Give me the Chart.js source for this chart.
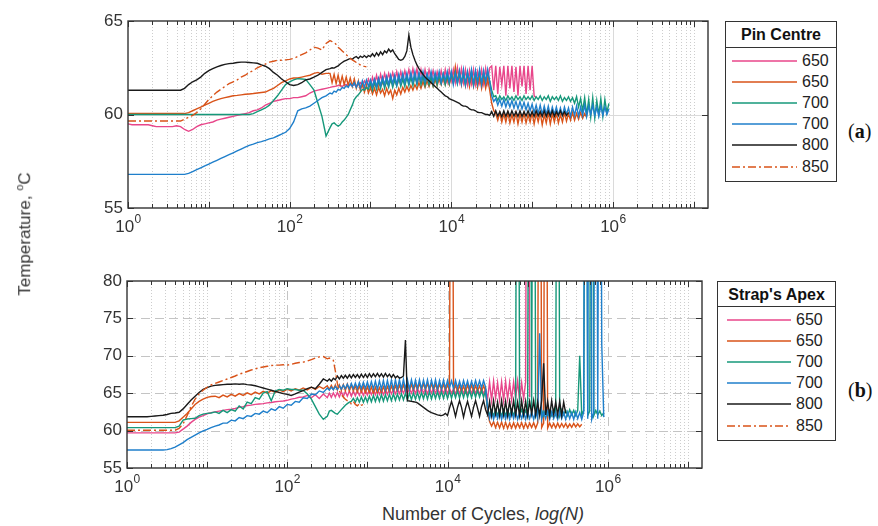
<!DOCTYPE html>
<html>
<head>
<meta charset="utf-8">
<script src="https://cdn.jsdelivr.net/npm/chart.js@4.4.1/dist/chart.umd.min.js"></script>
<style>
  body { margin: 0; background: #fff; font-family: 'Liberation Sans', Arial, Helvetica, sans-serif; color: #333; }
  #page { position: relative; width: 878px; height: 526px; overflow: hidden; }
  canvas { position: absolute; left: 0; }
  .legend { position: absolute; box-sizing: border-box; border: 1.5px solid #333; background: #fff; font-size: 16px; }
  .lg-title { font-weight: bold; color: #111; text-align: center; border-bottom: 1.5px solid #333; box-sizing: border-box; }
  .lg-row { height: 21.2px; display: flex; align-items: center; }
  .lg-row span { margin-left: 5px; color: #222; }
  .panel { position: absolute; font-family: 'Liberation Serif', 'Times New Roman', serif; font-size: 20px; color: #111; }
  #ylabel { position: absolute; left: 24px; top: 234px; transform: translate(-50%, -50%) rotate(-90deg); white-space: nowrap; font-size: 17px; }
  #ylabel sup { font-size: 11px; }
  #xlabel { position: absolute; left: 382px; top: 504px; white-space: nowrap; font-size: 18px; }
</style>
</head>
<body>
<div id="page">
  <canvas id="pinChart" width="720" height="240" style="top:0"></canvas>
  <canvas id="strapChart" width="720" height="250" style="top:250px"></canvas>
  <div id="pinLegend" class="legend" style="left:725px; top:21px; width:112px; height:161px;"></div>
  <div id="strapLegend" class="legend" style="left:717px; top:281px; width:119px; height:160px;"></div>
  <div class="panel" style="left:848px; top:120px;">(<b>a</b>)</div>
  <div class="panel" style="left:848px; top:379px;">(<b>b</b>)</div>
  <div id="ylabel">Temperature, <sup>o</sup>C</div>
  <div id="xlabel">Number of Cycles, <i>log(N)</i></div>
</div>
<script>
// Number of cycles shared by every trace: 20 points per decade up to ~316, then 40 per decade
var cycles = [
  1, 1.12, 1.26, 1.41, 1.58, 1.78, 2, 2.24, 2.51, 2.82, 3.16, 3.55, 3.98, 4.47, 5.01, 5.62, 6.31, 7.08, 7.94, 8.91,
  10, 11.2, 12.6, 14.1, 15.8, 17.8, 20, 22.4, 25.1, 28.2, 31.6, 35.5, 39.8, 44.7, 50.1, 56.2, 63.1, 70.8, 79.4, 89.1,
  100, 112, 126, 141, 158, 178, 200, 224, 251, 282, 316,
  335, 355, 376, 398, 422, 447, 473, 501, 531, 562, 596, 631, 668, 708, 750, 794, 841, 891, 944,
  1000, 1059, 1122, 1189, 1259, 1334, 1413, 1496, 1585, 1679, 1778, 1884, 1995, 2113, 2239, 2371, 2512, 2661, 2818, 2985,
  3162, 3350, 3548, 3758, 3981, 4217, 4467, 4732, 5012, 5309, 5623, 5957, 6310, 6683, 7079, 7499, 7943, 8414, 8913, 9441,
  10000, 10590, 11220, 11890, 12590, 13340, 14130, 14960, 15850, 16790, 17780, 18840, 19950, 21130, 22390, 23710, 25120, 26610, 28180, 29850,
  31620, 33500, 35480, 37580, 39810, 42170, 44670, 47320, 50120, 53090, 56230, 59570, 63100, 66830, 70790, 74990, 79430, 84140, 89130, 94410,
  100000, 105900, 112200, 118900, 125900, 133400, 141300, 149600, 158500, 167900, 177800, 188400, 199500, 211300, 223900, 237100, 251200, 266100, 281800, 298500,
  316200, 335000, 354800, 375800, 398100, 421700, 446700, 473200, 501200, 530900, 562300, 595700, 631000, 668300, 707900, 749900, 794300, 841400, 891300, 944100,
  1000000
];

var seriesLabels = ['650', '650', '700', '700', '800', '850'];
var seriesColors = ['#E8468A', '#D95319', '#16987A', '#1F7FCB', '#1A1A1A', '#D95319'];
var seriesDashes = [[], [], [], [], [], [8, 3, 2, 3]];

var xLabelPowers = [0, 2, 4, 6];
var pinYTicks = [55, 60, 65];
var strapYTicks = [55, 60, 65, 70, 75, 80];

// (a) Pin Centre, deg C
var pin650a = [
  59.5, 59.45, 59.45, 59.45, 59.45, 59.45, 59.4, 59.35, 59.35, 59.35, 59.35, 59.35, 59.4, 59.35, 59.2, 59.1, 59.2, 59.35, 59.45, 59.5,
  59.55, 59.6, 59.7, 59.75, 59.8, 59.85, 59.9, 59.95, 60.0, 60.05, 60.1, 60.2, 60.25, 60.35, 60.5, 60.6, 60.7, 60.75, 60.8, 60.85,
  60.85, 60.9, 60.9, 60.95, 61.0, 61.15, 61.25, 61.3, 61.35, 61.4, 61.45,
  61.48, 61.5, 61.52, 61.55, 61.55, 61.5, 61.58, 61.6, 61.55, 61.6, 61.55, 61.6, 61.5, 61.6, 61.7, 61.5, 61.8, 61.6, 61.9,
  61.5, 62.0, 61.6, 62.1, 61.6, 62.15, 61.7, 62.2, 61.75, 62.2, 61.8, 62.25, 61.8, 62.3, 61.8, 62.3, 61.85, 62.35, 61.9, 62.4,
  61.9, 62.45, 61.9, 62.45, 61.85, 62.4, 61.8, 62.4, 61.85, 62.4, 61.9, 62.35, 61.8, 62.3, 61.8, 62.35, 61.8, 62.4, 61.75, 62.4,
  61.8, 62.4, 61.7, 62.5, 61.75, 62.45, 61.7, 62.4, 61.6, 62.35, 61.65, 62.4, 61.6, 62.3, 61.7, 62.4, 61.65, 62.45, 61.7, 62.5,
  62.6, 61.3, 62.6, 61.1, 62.55, 61.6, 62.6, 61.0, 62.6, 61.4, 62.6, 61.2, 62.55, 61.0, 62.6, 61.5, 62.6, 61.1, 62.6, 61.3,
  62.6, 61.0, 60.9
];
var pin650b = [
  60.05, 60.05, 60.05, 60.05, 60.05, 60.05, 60.05, 60.05, 60.05, 60.05, 60.05, 60.05, 60.05, 60.05, 60.05, 60.1, 60.2, 60.3, 60.4, 60.5,
  60.6, 60.7, 60.78, 60.85, 60.9, 60.95, 61.0, 61.02, 61.05, 61.08, 61.1, 61.12, 61.15, 61.18, 61.2, 61.3, 61.4, 61.55, 61.7, 61.8,
  61.9, 61.95, 61.95, 62.0, 62.05, 62.1, 62.2, 62.25, 62.15, 62.2, 62.2,
  61.7, 62.15, 61.65, 62.1, 61.6, 62.05, 61.6, 62.0, 61.55, 61.95, 61.5, 61.9, 61.4, 61.8, 61.3, 61.65, 61.2, 61.55, 61.15,
  61.45, 61.1, 61.4, 61.05, 61.45, 61.15, 61.35, 61.0, 61.4, 61.1, 61.3, 60.85, 61.3, 61.05, 61.4, 61.1, 61.45, 61.2, 61.5, 61.25,
  61.55, 61.3, 61.6, 61.35, 61.7, 61.4, 61.75, 61.45, 61.8, 61.5, 61.85, 61.5, 61.9, 61.55, 61.95, 61.6, 62.0, 61.6, 62.0, 61.6,
  62.1, 61.7, 62.55, 61.75, 62.3, 61.6, 62.25, 61.55, 62.2, 61.5, 62.15, 61.5, 62.1, 61.45, 62.05, 61.4, 62.0, 61.4, 61.9, 61.3,
  60.6, 60.2, 60.05, 59.7, 60.1, 59.6, 60.05, 59.6, 60.1, 59.55, 60.0, 59.6, 60.1, 59.5, 60.05, 59.6, 60.1, 59.55, 60.0, 59.6,
  60.1, 59.5, 60.05, 59.6, 60.1, 59.45, 60.0, 59.55, 60.1, 59.5, 60.05, 59.6, 60.1, 59.55, 60.0, 59.6, 60.1, 59.65, 60.05, 59.7,
  60.1, 59.7, 60.05, 59.75, 60.1, 59.8, 60.05, 59.85
];
var pin700a = [
  60.0, 60.0, 60.0, 60.0, 60.0, 60.0, 60.0, 60.0, 60.0, 60.0, 60.0, 60.0, 60.0, 60.0, 60.0, 60.0, 60.0, 60.0, 60.0, 60.0,
  60.0, 60.0, 60.0, 60.0, 60.0, 60.0, 60.0, 60.0, 60.0, 60.0, 60.0, 60.05, 60.15, 60.25, 60.35, 60.5, 60.75, 61.0, 61.3, 61.6,
  61.75, 61.85, 61.92, 61.9, 61.88, 61.6, 61.3, 60.6, 59.9, 58.85, 59.3,
  59.5, 59.55, 59.45, 59.38, 59.45, 59.6, 59.7, 59.85, 60.0, 60.25, 60.5, 60.8, 60.95, 61.05, 61.2, 61.35, 61.3, 61.45, 61.35,
  61.7, 61.3, 61.75, 61.35, 61.8, 61.4, 61.85, 61.4, 61.8, 61.45, 61.9, 61.45, 61.85, 61.5, 61.95, 61.5, 61.9, 61.5, 62.0, 61.55,
  62.0, 61.55, 62.05, 61.6, 62.1, 61.6, 62.05, 61.55, 62.1, 61.6, 62.0, 61.55, 62.05, 61.6, 62.1, 61.65, 62.15, 61.6, 62.1, 61.65,
  62.2, 61.7, 62.25, 61.65, 62.2, 61.7, 62.15, 61.6, 62.2, 61.7, 62.3, 61.6, 62.25, 61.75, 62.3, 61.7, 62.2, 61.8, 62.25, 61.8,
  61.3, 60.95, 61.0, 60.75, 61.0, 60.8, 60.95, 60.75, 61.0, 60.8, 60.95, 60.75, 61.0, 60.8, 60.95, 60.75, 61.0, 60.8, 60.95, 60.8,
  61.0, 60.75, 60.95, 60.8, 61.0, 60.75, 60.95, 60.8, 61.0, 60.7, 60.95, 60.8, 60.95, 60.75, 61.0, 60.7, 60.9, 60.75, 60.95, 60.7,
  60.9, 60.6, 60.95, 60.4, 60.85, 60.2, 60.9, 60.0, 60.8, 59.85, 60.9, 59.8, 60.75, 60.0, 60.85, 59.9, 60.8, 60.1, 60.6
];
var pin700b = [
  56.8, 56.8, 56.8, 56.8, 56.8, 56.8, 56.8, 56.8, 56.8, 56.8, 56.8, 56.8, 56.8, 56.8, 56.8, 56.85, 56.95, 57.05, 57.15, 57.25,
  57.35, 57.45, 57.55, 57.65, 57.75, 57.85, 57.95, 58.05, 58.15, 58.25, 58.35, 58.42, 58.5, 58.55, 58.62, 58.7, 58.75, 58.85, 58.95, 59.05,
  59.25, 59.6, 60.2, 60.3, 60.35, 60.45, 60.6, 60.75, 60.9, 61.0, 61.15,
  61.1, 61.25, 61.2, 61.35, 61.3, 61.45, 61.4, 61.55, 61.45, 61.65, 61.5, 61.7, 61.45, 61.75, 61.4, 61.8, 61.45, 61.85, 61.5,
  61.85, 61.5, 61.9, 61.5, 61.95, 61.55, 62.0, 61.6, 62.05, 61.6, 62.1, 61.65, 62.1, 61.6, 62.15, 61.7, 62.2, 61.7, 62.2, 61.7,
  62.25, 61.75, 62.3, 61.7, 62.25, 61.8, 62.3, 61.75, 62.2, 61.8, 62.3, 61.7, 62.25, 61.8, 62.3, 61.7, 62.2, 61.8, 62.3, 61.75,
  62.3, 61.6, 62.25, 61.7, 62.35, 61.65, 62.4, 61.6, 62.3, 61.7, 62.4, 61.6, 62.35, 61.65, 62.4, 61.6, 62.35, 61.7, 62.4, 61.75,
  61.0, 60.7, 60.85, 60.5, 60.8, 60.45, 60.8, 60.4, 60.75, 60.4, 60.75, 60.35, 60.7, 60.3, 60.7, 60.3, 60.65, 60.25, 60.6, 60.2,
  60.55, 60.1, 60.5, 60.05, 60.5, 60.0, 60.45, 60.0, 60.45, 59.95, 60.4, 60.0, 60.4, 59.95, 60.35, 59.95, 60.4, 60.0, 60.35, 59.9,
  60.4, 59.95, 60.45, 59.9, 60.4, 59.95, 60.5, 59.9, 60.45, 60.0, 60.5, 59.95, 60.4, 59.9, 60.45, 59.95, 60.4, 60.0, 60.3
];
var pin800 = [
  61.3, 61.3, 61.3, 61.3, 61.3, 61.3, 61.3, 61.3, 61.3, 61.3, 61.3, 61.3, 61.3, 61.3, 61.4, 61.6, 61.75, 61.85, 62.0, 62.2,
  62.35, 62.45, 62.55, 62.62, 62.68, 62.72, 62.74, 62.78, 62.8, 62.8, 62.78, 62.76, 62.74, 62.65, 62.58, 62.45, 62.25, 62.1, 61.9, 61.75,
  61.6, 61.55, 61.6, 61.7, 61.85, 61.9, 62.0, 62.1, 62.25, 62.4, 62.45,
  62.5, 62.48, 62.55, 62.6, 62.7, 62.78, 62.85, 62.9, 62.95, 63.0, 62.95, 63.05, 63.1, 63.0, 63.12, 63.05, 63.15, 63.05, 63.15,
  63.1, 63.25, 63.1, 63.3, 63.15, 63.35, 63.2, 63.4, 63.3, 63.5, 63.35, 63.45, 63.25, 63.1, 62.95, 62.9, 62.95, 63.1, 63.4, 64.25,
  63.6, 63.2, 62.9, 62.65, 62.45, 62.3, 62.15, 62.0, 61.9, 61.8, 61.7, 61.6, 61.5, 61.4, 61.3, 61.2, 61.1, 61.0, 60.95, 60.85,
  60.8, 60.75, 60.7, 60.65, 60.6, 60.5, 60.45, 60.45, 60.4, 60.3, 60.25, 60.25, 60.2, 60.12, 60.1, 60.1, 60.05, 60.0, 60.0, 59.95,
  60.15, 59.9, 60.2, 59.92, 60.15, 59.88, 60.2, 59.9, 60.18, 59.9, 60.2, 59.92, 60.15, 59.9, 60.2, 59.9, 60.15, 59.92, 60.2, 59.9,
  60.15, 59.9, 60.2, 59.92, 60.15, 59.9, 60.2, 59.9, 60.18, 59.92, 60.2, 59.9, 60.15, 59.95, 60.2, 59.95, 60.15, 59.95, 60.1
];
var pin850 = [
  59.65, 59.65, 59.65, 59.65, 59.65, 59.65, 59.65, 59.65, 59.65, 59.65, 59.65, 59.65, 59.65, 59.65, 59.75, 59.85, 59.95, 60.1, 60.3, 60.55,
  60.8, 61.0, 61.2, 61.35, 61.5, 61.65, 61.75, 61.85, 62.0, 62.1, 62.25, 62.35, 62.5, 62.6, 62.7, 62.8, 62.85, 62.9, 62.9, 62.92,
  62.95, 63.0, 63.1, 63.2, 63.3, 63.45, 63.6, 63.55, 63.45, 63.8, 63.95,
  63.9, 63.85, 63.75, 63.6, 63.5, 63.4, 63.3, 63.2, 63.1, 63.0, 62.92, 62.85, 62.78, 62.7, 62.65, 62.6, 62.57, 62.55
];

// (b) Strap's Apex, deg C (spikes run far off the top of the axes)
var strap650a = [
  59.7, 59.7, 59.7, 59.7, 59.7, 59.7, 59.7, 59.7, 59.7, 59.7, 59.7, 59.7, 59.7, 59.8, 60.2, 60.6, 61.1, 61.5, 61.8, 62.0,
  62.25, 62.4, 62.5, 62.6, 62.7, 62.8, 62.85, 62.95, 63.1, 63.2, 63.35, 63.4, 63.5, 63.55, 63.6, 63.7, 63.75, 63.85, 63.9, 63.95,
  64.05, 64.2, 64.3, 64.45, 64.5, 64.7, 64.4, 64.8, 64.3, 64.9, 64.4,
  65.0, 64.45, 65.05, 64.5, 65.1, 64.5, 65.2, 64.55, 65.25, 64.6, 65.3, 64.6, 65.3, 64.65, 65.35, 64.7, 65.4, 64.7, 65.4,
  64.75, 65.45, 64.8, 65.5, 64.8, 65.5, 64.85, 65.5, 64.8, 65.45, 64.85, 65.55, 64.9, 65.55, 64.9, 65.6, 64.95, 65.6, 65.0, 65.65,
  65.0, 65.6, 65.0, 65.7, 64.95, 65.65, 65.0, 65.7, 65.0, 65.6, 64.95, 65.65, 65.0, 65.7, 65.0, 65.65, 64.95, 65.6, 65.0, 65.7,
  64.95, 65.65, 65.0, 65.6, 64.9, 65.65, 64.95, 65.7, 65.0, 65.6, 64.9, 65.65, 65.0, 65.7, 64.95, 65.6, 64.9, 65.55, 64.95, 65.6,
  64.2, 66.5, 64.0, 66.6, 64.3, 66.4, 64.1, 66.5, 64.0, 66.6, 64.2, 66.4, 64.1, 66.5, 64.3, 66.6, 64.0, 66.4, 64.2, 66.5,
  150, 64.5
];
var strap650b = [
  61.1, 61.1, 61.1, 61.1, 61.1, 61.1, 61.1, 61.1, 61.1, 61.1, 61.1, 61.1, 61.1, 61.3, 61.8, 62.3, 62.9, 63.5, 63.9, 64.2,
  64.45, 64.55, 64.6, 64.4, 64.75, 64.5, 64.85, 64.6, 64.95, 64.7, 65.05, 64.8, 65.15, 64.9, 65.25, 65.0, 65.35, 65.1, 65.45, 65.2,
  65.55, 65.3, 65.6, 65.4, 65.7, 65.45, 65.8, 65.5, 65.9, 65.6, 66.0,
  65.5, 66.05, 65.5, 66.1, 65.45, 66.1, 65.4, 66.15, 65.35, 66.2, 65.3, 66.1, 65.3, 66.0, 65.2, 66.0, 65.15, 65.95, 65.1,
  65.9, 65.1, 65.85, 65.0, 65.8, 65.05, 65.75, 65.1, 65.85, 65.15, 65.9, 65.2, 65.95, 65.25, 66.0, 65.3, 66.05, 65.3, 66.1, 65.35,
  66.1, 65.4, 66.15, 65.4, 66.2, 65.45, 66.25, 65.5, 66.3, 65.45, 66.3, 65.4, 66.25, 65.45, 66.2, 65.4, 66.2, 65.45, 66.15, 65.4,
  66.1, 65.35, 150, 65.3, 66.05, 65.25, 66.0, 65.2, 65.95, 65.15, 66.1, 65.3, 66.05, 65.25, 66.0, 65.3, 65.95, 65.2, 66.0, 65.3,
  62.5, 61.2, 60.6, 61.2, 60.4, 61.1, 60.35, 61.15, 60.3, 61.1, 60.3, 61.0, 60.35, 61.05, 60.3, 61.0, 60.4, 61.05, 60.3, 61.0,
  60.35, 61.0, 60.4, 61.05, 60.3, 61.0, 150, 60.4, 61.0, 150, 60.35, 61.0, 60.4, 60.95, 60.35, 61.0, 60.4, 60.95, 60.45, 60.95,
  60.4, 60.9, 60.45, 60.95, 60.5, 60.9, 60.5, 60.85
];
var strap700a = [
  60.4, 60.4, 60.4, 60.4, 60.4, 60.4, 60.4, 60.4, 60.4, 60.4, 60.4, 60.4, 60.4, 60.6, 61.4, 61.55, 61.6, 61.65, 62.0, 62.2,
  62.3, 62.35, 62.5, 62.3, 62.7, 62.4, 62.8, 62.6, 63.3, 62.9, 63.8, 63.6, 64.4, 64.2, 65.0, 65.2, 64.0, 65.3, 65.5, 65.4,
  65.6, 65.5, 65.5, 65.4, 65.4, 64.9, 64.2, 63.2, 62.2, 61.5, 61.9,
  62.6, 62.7, 62.5, 62.3, 62.2, 62.5, 62.8, 63.1, 63.4, 63.6, 63.8, 63.9, 64.3, 63.8, 64.4, 63.8, 64.5, 63.8, 64.5,
  63.8, 64.6, 63.85, 64.7, 63.9, 64.7, 63.9, 64.8, 63.95, 64.8, 64.0, 64.85, 64.0, 64.9, 64.05, 64.9, 64.1, 64.95, 64.1, 65.0,
  64.1, 65.0, 64.15, 65.05, 64.2, 65.1, 64.2, 65.1, 64.25, 65.15, 64.2, 65.2, 64.25, 65.2, 64.3, 65.2, 64.3, 65.25, 64.3, 65.25,
  64.3, 65.3, 64.35, 65.3, 64.4, 65.35, 64.35, 65.35, 64.4, 65.4, 64.45, 65.4, 64.4, 65.35, 64.45, 65.4, 64.5, 65.4, 64.45, 65.35,
  63.0, 62.1, 62.7, 62.0, 62.8, 62.1, 62.7, 62.0, 62.8, 62.05, 62.75, 62.0, 62.8, 62.1, 62.7, 150, 62.1, 62.8, 62.0, 62.7,
  62.0, 150, 62.1, 150, 62.0, 62.8, 62.1, 62.7, 62.0, 62.8, 62.1, 62.7, 62.0, 62.8, 62.1, 150, 62.0, 62.8, 62.1, 62.7,
  62.0, 62.8, 62.1, 62.7, 62.0, 62.7, 70.0, 62.1, 62.7, 150, 62.0, 62.6, 150, 62.0, 62.7, 62.1, 62.6, 62.0, 62.4
];
var strap700b = [
  57.4, 57.4, 57.4, 57.4, 57.4, 57.4, 57.4, 57.4, 57.4, 57.4, 57.45, 57.6, 57.8, 58.1, 58.4, 58.8, 59.1, 59.4, 59.7, 59.95,
  60.15, 60.4, 60.6, 60.75, 61.0, 61.0, 61.4, 61.3, 61.75, 61.6, 62.0, 61.9, 62.3, 62.2, 62.6, 62.4, 62.9, 62.7, 63.2, 63.0,
  63.5, 63.4, 63.9, 63.8, 64.4, 64.3, 64.9, 64.8, 65.3, 65.1, 65.7,
  65.4, 65.8, 65.45, 65.9, 65.5, 66.0, 65.55, 66.1, 65.6, 66.2, 65.6, 66.3, 65.6, 66.35, 65.6, 66.4, 65.6, 66.45, 65.6,
  66.5, 65.6, 66.55, 65.55, 66.6, 65.5, 66.65, 65.5, 66.7, 65.45, 66.7, 65.5, 66.75, 65.45, 66.8, 65.5, 66.8, 65.5, 66.85, 65.5,
  66.8, 65.55, 66.8, 65.6, 66.75, 65.6, 66.8, 65.55, 66.75, 65.6, 66.8, 65.5, 66.75, 65.6, 66.8, 65.55, 66.7, 65.6, 66.75, 65.65,
  66.7, 65.7, 66.65, 65.6, 66.7, 65.65, 66.6, 65.6, 66.7, 65.7, 66.65, 65.6, 66.6, 65.7, 66.7, 65.75, 66.65, 65.7, 66.7, 65.8,
  63.0, 61.6, 62.6, 61.5, 62.55, 61.6, 62.6, 61.5, 62.5, 61.55, 62.6, 61.5, 62.55, 61.6, 62.6, 61.5, 62.5, 61.6, 62.55, 61.5,
  62.6, 61.6, 62.5, 61.5, 62.6, 61.6, 73.0, 61.5, 62.5, 61.6, 62.6, 61.5, 62.5, 61.6, 62.4, 61.5, 62.5, 61.6, 62.4, 61.5,
  62.5, 61.6, 62.4, 61.5, 62.5, 61.6, 62.4, 61.5, 62.5, 150, 61.6, 150, 61.5, 62.4, 150, 61.6, 150, 71.5, 61.8
];
var strap800 = [
  61.85, 61.85, 61.85, 61.85, 61.85, 61.85, 61.9, 61.95, 62.0, 62.05, 62.15, 62.3, 62.35, 62.45, 62.9, 63.5, 64.1, 64.6, 65.1, 65.5,
  65.75, 65.95, 66.05, 66.1, 66.15, 66.2, 66.2, 66.25, 66.2, 66.25, 66.15, 66.1, 66.0, 65.85, 65.7, 65.55, 65.4, 65.25, 65.1, 64.95,
  64.85, 64.7, 64.9, 65.15, 65.35, 65.6, 65.8, 65.6, 66.2, 66.9, 66.6,
  66.9, 66.6, 67.0, 66.8, 67.3, 66.9, 67.35, 67.0, 67.4, 67.0, 67.45, 67.05, 67.5, 67.1, 67.5, 67.05, 67.55, 67.1, 67.55,
  67.1, 67.6, 67.15, 67.6, 67.2, 67.65, 67.2, 67.6, 67.15, 67.65, 67.2, 67.55, 67.1, 67.5, 67.05, 67.3, 67.0, 67.1, 67.3, 72.1,
  64.0, 63.95, 63.9, 63.85, 63.8, 63.7, 63.5, 63.3, 63.1, 62.9, 62.7, 62.55, 62.4, 62.3, 62.2, 62.1, 62.05, 62.0, 62.1, 62.3,
  62.0, 63.0, 63.9, 63.0, 61.9, 63.1, 64.0, 63.1, 61.8, 63.0, 63.9, 62.9, 61.9, 63.1, 64.0, 63.0, 61.9, 63.2, 64.0, 62.8,
  62.1, 63.9, 62.0, 64.0, 62.2, 63.8, 62.0, 64.0, 62.1, 63.9, 62.0, 63.9, 62.2, 64.0, 62.1, 63.8, 62.0, 64.0, 62.1, 63.9,
  62.0, 63.9, 62.2, 64.0, 62.1, 63.8, 62.0, 64.0, 69.0, 62.1, 63.9, 62.0, 64.0, 62.2, 63.8, 62.1, 63.9, 62.0, 63.8, 62.3
];
var strap850 = [
  60.05, 60.05, 60.05, 60.05, 60.05, 60.05, 60.05, 60.05, 60.05, 60.05, 60.05, 60.05, 60.05, 60.3, 60.9, 62.0, 63.2, 64.2, 64.9, 65.4,
  65.8, 66.1, 66.3, 66.5, 66.7, 66.9, 67.1, 67.3, 67.55, 67.7, 67.9, 68.1, 68.25, 68.4, 68.5, 68.6, 68.7, 68.75, 68.75, 68.8,
  68.75, 68.85, 69.0, 69.1, 69.15, 69.3, 69.5, 69.7, 69.85, 69.9, 69.6,
  69.7, 69.5, 69.4, 68.0, 66.3, 65.3, 64.8, 64.5, 64.2, 64.0, 63.8, 63.6, 63.9, 63.5, 63.3, 63.6, 63.4, 63.5
];

var fontFamily = "'Liberation Sans', Arial, Helvetica, sans-serif";
var axisColor = '#333';

// all log tick positions: 1..9 x 10^k
function logTickValues(max) {
  var vals = [];
  for (var k = 0; k < 8; k++) {
    for (var m = 1; m <= 9; m++) {
      var v = m * Math.pow(10, k);
      if (v <= max) vals.push(v);
    }
  }
  return vals;
}

function isEvenDecade(v) {
  var p = Math.log10(v);
  return Math.abs(p - Math.round(p)) < 1e-9 && Math.round(p) % 2 === 0;
}

// grid, box, inward ticks and 10^n labels in the MATLAB look
var matlabAxes = {
  id: 'matlabAxes',
  beforeDatasetsDraw: function (chart, args, opts) {
    var ctx = chart.ctx, a = chart.chartArea;
    var xs = chart.scales.x, ys = chart.scales.y;
    ctx.save();
    ctx.lineWidth = 1;
    ctx.strokeStyle = '#cdcdcd';
    ctx.setLineDash([1, 2]);
    logTickValues(xs.max).forEach(function (v) {
      if (isEvenDecade(v)) return;
      var px = Math.round(xs.getPixelForValue(v)) + 0.5;
      ctx.beginPath(); ctx.moveTo(px, a.top); ctx.lineTo(px, a.bottom); ctx.stroke();
    });
    ctx.strokeStyle = opts.gridColor;
    ctx.setLineDash(opts.gridDash);
    xLabelPowers.forEach(function (p) {
      if (p === 0) return;
      var px = Math.round(xs.getPixelForValue(Math.pow(10, p))) + 0.5;
      ctx.beginPath(); ctx.moveTo(px, a.bottom); ctx.lineTo(px, a.top); ctx.stroke();
    });
    opts.yTicks.forEach(function (v) {
      if (v === ys.min || v === ys.max) return;
      var py = Math.round(ys.getPixelForValue(v)) + 0.5;
      ctx.beginPath(); ctx.moveTo(a.left, py); ctx.lineTo(a.right, py); ctx.stroke();
    });
    ctx.restore();
  },
  afterDatasetsDraw: function (chart, args, opts) {
    var ctx = chart.ctx, a = chart.chartArea;
    var xs = chart.scales.x, ys = chart.scales.y;
    ctx.save();
    ctx.setLineDash([]);
    ctx.strokeStyle = axisColor;
    ctx.lineWidth = 1;
    logTickValues(xs.max).forEach(function (v) {
      var px = Math.round(xs.getPixelForValue(v)) + 0.5;
      var len = (Math.abs(Math.log10(v) - Math.round(Math.log10(v))) < 1e-9) ? 6 : 4;
      ctx.beginPath();
      ctx.moveTo(px, a.bottom); ctx.lineTo(px, a.bottom - len);
      ctx.moveTo(px, a.top); ctx.lineTo(px, a.top + len);
      ctx.stroke();
    });
    opts.yTicks.forEach(function (v) {
      var py = Math.round(ys.getPixelForValue(v)) + 0.5;
      ctx.beginPath();
      ctx.moveTo(a.left, py); ctx.lineTo(a.left + 6, py);
      ctx.moveTo(a.right, py); ctx.lineTo(a.right - 6, py);
      ctx.stroke();
    });
    ctx.lineWidth = 1.4;
    ctx.strokeRect(a.left, a.top, a.right - a.left, a.bottom - a.top);

    ctx.fillStyle = axisColor;
    ctx.textBaseline = 'alphabetic';
    xLabelPowers.forEach(function (p) {
      var px = xs.getPixelForValue(Math.pow(10, p));
      ctx.font = '17px ' + fontFamily;
      var wBase = ctx.measureText('10').width;
      ctx.font = '12px ' + fontFamily;
      var wExp = ctx.measureText(String(p)).width;
      var x0 = px - (wBase + wExp) / 2;
      ctx.font = '17px ' + fontFamily;
      ctx.fillText('10', x0, a.bottom + 24);
      ctx.font = '12px ' + fontFamily;
      ctx.fillText(String(p), x0 + wBase + 0.5, a.bottom + 15);
    });
    ctx.restore();
  }
};

function makeChart(canvasId, series, yTicks, layout, gridStyle) {
  var datasets = series.map(function (vals, i) {
    return {
      label: seriesLabels[i],
      data: vals.map(function (v, k) { return { x: cycles[k], y: v }; }),
      borderColor: seriesColors[i],
      borderDash: seriesDashes[i],
      borderWidth: 1.4,
      pointRadius: 0,
      fill: false,
      tension: 0,
      order: series.length - i,
      clip: 0
    };
  });

  return new Chart(document.getElementById(canvasId).getContext('2d'), {
    type: 'line',
    data: { datasets: datasets },
    plugins: [matlabAxes],
    options: {
      responsive: false,
      animation: false,
      devicePixelRatio: 1,
      events: [],
      layout: { padding: { top: layout.top, right: layout.right, bottom: 0, left: 0 } },
      plugins: {
        legend: { display: false },
        tooltip: { enabled: false },
        matlabAxes: { yTicks: yTicks, gridColor: gridStyle.color, gridDash: gridStyle.dash }
      },
      scales: {
        x: {
          type: 'logarithmic',
          min: 1,
          max: 1.5e7,
          ticks: { display: false },
          grid: { display: false, drawTicks: false },
          border: { display: false },
          afterFit: function (s) { s.height = layout.xHeight; }
        },
        y: {
          min: yTicks[0],
          max: yTicks[yTicks.length - 1],
          afterBuildTicks: function (s) { s.ticks = yTicks.map(function (v) { return { value: v }; }); },
          ticks: { font: { family: fontFamily, size: 17 }, color: axisColor, padding: 5 },
          grid: { display: false, drawTicks: false },
          border: { display: false },
          afterFit: function (s) { s.width = layout.yWidth; }
        }
      }
    }
  });
}

function buildLegend(id, title, titleHeight, padLeft, lineLen) {
  var html = '<div class="lg-title" style="height:' + titleHeight + 'px; line-height:' + titleHeight + 'px;">' + title + '</div>';
  html += '<div style="padding-top:2px; padding-left:' + padLeft + 'px;">';
  seriesLabels.forEach(function (lab, i) {
    var dash = seriesDashes[i].length ? ' stroke-dasharray="' + seriesDashes[i].join(' ') + '"' : '';
    html += '<div class="lg-row"><svg width="' + lineLen + '" height="4"><line x1="0" y1="2" x2="' + lineLen +
      '" y2="2" stroke="' + seriesColors[i] + '" stroke-width="1.5"' + dash + '/></svg><span>' + lab + '</span></div>';
  });
  html += '</div>';
  document.getElementById(id).innerHTML = html;
}

makeChart('pinChart', [pin650a, pin650b, pin700a, pin700b, pin800, pin850], pinYTicks,
  { top: 21, right: 12, xHeight: 32, yWidth: 128 }, { color: '#dadada', dash: [] });
makeChart('strapChart', [strap650a, strap650b, strap700a, strap700b, strap800, strap850], strapYTicks,
  { top: 31, right: 18, xHeight: 32, yWidth: 127 }, { color: '#c4c4c4', dash: [9, 5] });

buildLegend('pinLegend', 'Pin Centre', 26, 6, 65);
buildLegend('strapLegend', "Strap's Apex", 25, 9, 64);
</script>
</body>
</html>
